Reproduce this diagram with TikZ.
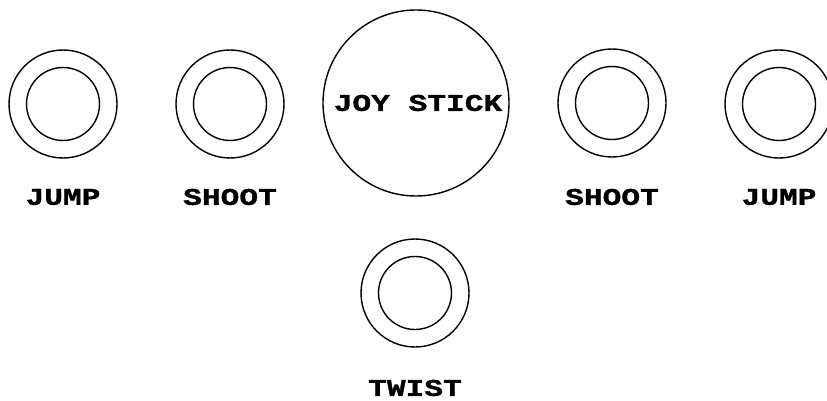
\documentclass[tikz,border=0pt]{standalone}
\usepackage{fontspec}
\newfontfamily\keyfont[FakeStretch=1.3, BoldFeatures={FakeBold=1.2}]{Liberation Mono}
\tikzset{
  keylabel/.style={font=\keyfont\bfseries\fontsize{24}{24}\selectfont, inner sep=0pt}
}
\begin{document}
\begin{tikzpicture}[x=1pt, y=-1pt, line width=1.4pt]
\useasboundingbox (0,0) rectangle (827,401);

% buttons: centre x, centre y, label y, name, text
\foreach \x/\y/\ly/\nm/\txt in {63/104/197/jumpl/JUMP, 230/104/197/shootl/SHOOT,
    612/103/197/shootr/SHOOT, 779/104/197/jumpr/JUMP, 415/293/388/twist/TWIST}
{
   \draw (\x,\y) circle (54pt) (\x,\y) circle (36.5pt);
   \node[keylabel] (\nm) at (\x,\ly) {\txt};
}

% the stick
\draw (416,103) circle (93pt);
\node[keylabel] (stick) at (418,103) {JOY STICK};
\end{tikzpicture}
\end{document}
